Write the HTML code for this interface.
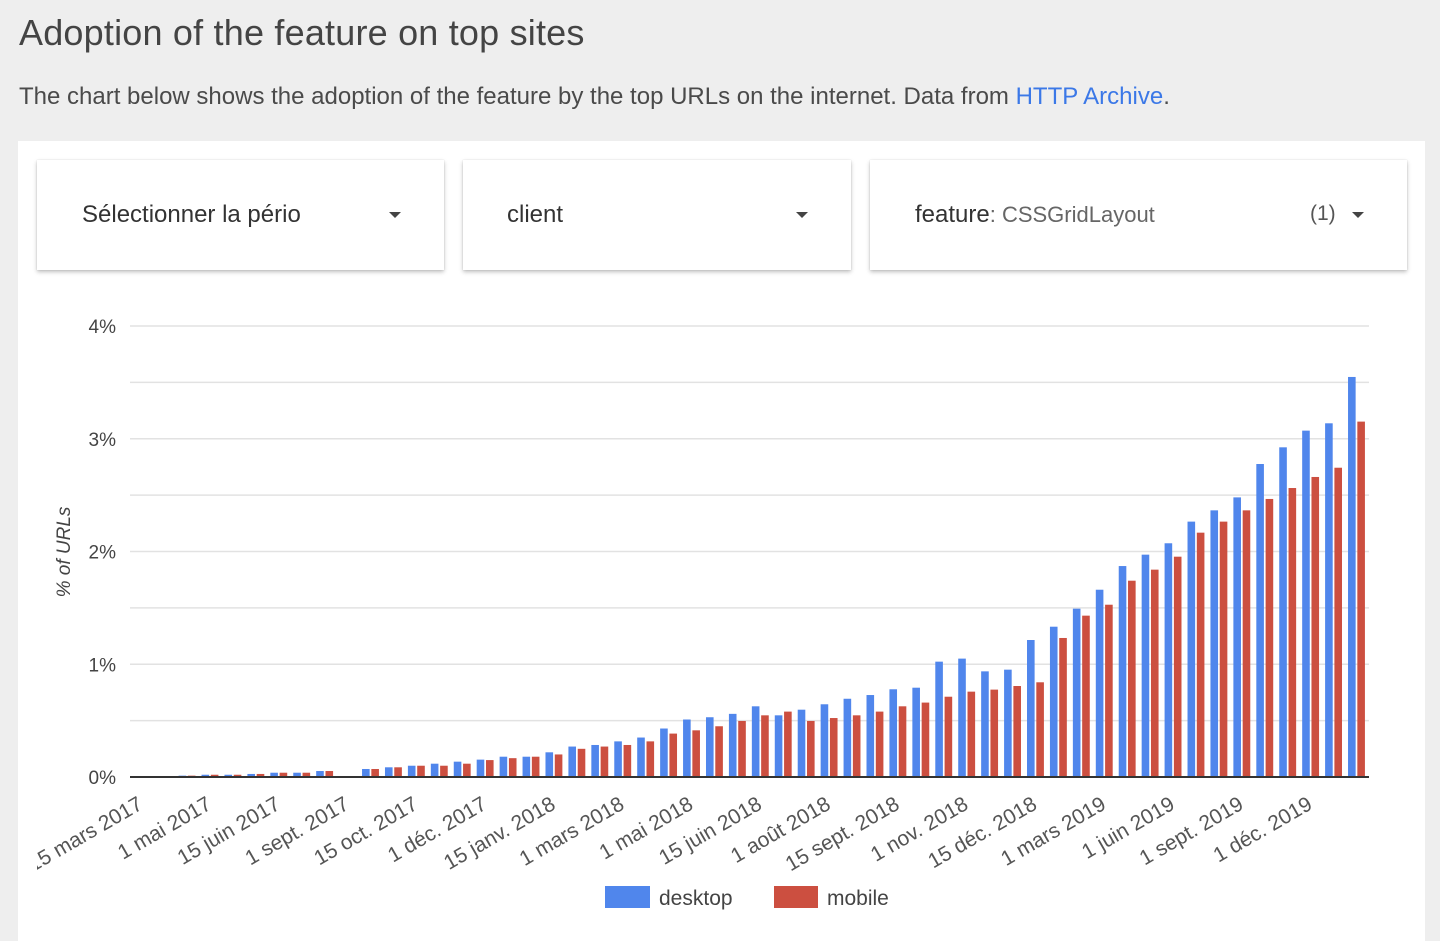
<!DOCTYPE html>
<html><head><meta charset="utf-8">
<style>
html,body{margin:0;padding:0;width:1440px;height:929px;background:#eeeeee;overflow:hidden;font-family:"Liberation Sans",sans-serif;color:#444}
.title{position:absolute;left:19px;top:12px;font-size:36px;font-weight:300;color:#444;letter-spacing:0.2px}
.sub{position:absolute;left:19px;top:83px;font-size:24px;color:#4a4a4a}
.sub a{color:#3b78e7;text-decoration:none}
.card{position:absolute;left:18px;top:141px;width:1407px;height:800px;background:#fff}
.dd{position:absolute;top:160px;height:110px;background:#fff;box-shadow:0 2px 4px rgba(0,0,0,0.25),0 0 1px rgba(0,0,0,0.15);font-size:24px;color:#333}
.dd span.t{position:absolute;top:41px}
.caret{position:absolute;top:52px;width:0;height:0;border-left:6px solid transparent;border-right:6px solid transparent;border-top:6px solid #444}
svg{position:absolute;left:0;top:0}
</style></head><body>
<div class="title">Adoption of the feature on top sites</div>
<div class="sub">The chart below shows the adoption of the feature by the top URLs on the internet. Data from <a>HTTP Archive</a>.</div>
<div class="card"></div>
<div class="dd" style="left:37px;width:407px"><span class="t" style="left:45px">Sélectionner la pério</span><div class="caret" style="left:352px"></div></div>
<div class="dd" style="left:463px;width:388px"><span class="t" style="left:44px">client</span><div class="caret" style="left:333px"></div></div>
<div class="dd" style="left:870px;width:537px"><span class="t" style="left:45px">feature<span style="color:#666;font-size:22px">: CSSGridLayout</span></span><span class="t" style="left:440px;font-size:21px;color:#555;top:42px">(1)</span><div class="caret" style="left:482px"></div></div>
<svg id="chart" width="1440" height="929">
<defs><clipPath id="clip"><rect x="37" y="280" width="1400" height="649"/></clipPath></defs>
<g id="grid"></g><g id="bars"></g><g id="axis"></g><g id="xl" clip-path="url(#clip)"></g>
<text x="70" y="552" transform="rotate(-90 70 552)" text-anchor="middle" font-size="19" font-style="italic" fill="#444">% of URLs</text>
<rect x="605" y="886" width="45" height="22" fill="#5086ec"/>
<text x="659" y="905" font-size="21" fill="#444">desktop</text>
<rect x="774" y="886" width="44" height="22" fill="#cc4f40"/>
<text x="827" y="905" font-size="21" fill="#444">mobile</text>
</svg>
<script>
const desktop=[0.012,0.02,0.02,0.027,0.038,0.038,0.053,null,0.071,0.086,0.1,0.118,0.136,0.154,0.18,0.18,0.219,0.27,0.284,0.316,0.35,0.43,0.51,0.53,0.56,0.627,0.547,0.597,0.645,0.694,0.727,0.778,0.792,1.023,1.05,0.937,0.952,1.215,1.333,1.493,1.661,1.871,1.972,2.073,2.265,2.365,2.48,2.776,2.924,3.072,3.137,3.548];
const mobile=[0.012,0.02,0.02,0.027,0.038,0.038,0.053,null,0.071,0.086,0.1,0.1,0.118,0.15,0.167,0.18,0.2,0.25,0.27,0.284,0.316,0.385,0.414,0.45,0.497,0.547,0.58,0.497,0.523,0.547,0.58,0.627,0.66,0.712,0.757,0.775,0.807,0.84,1.233,1.431,1.528,1.741,1.839,1.954,2.167,2.265,2.365,2.466,2.563,2.661,2.743,3.152];
const xLabels=["15 mars 2017","1 mai 2017","15 juin 2017","1 sept. 2017","15 oct. 2017","1 déc. 2017","15 janv. 2018","1 mars 2018","1 mai 2018","15 juin 2018","1 août 2018","15 sept. 2018","1 nov. 2018","15 déc. 2018","1 mars 2019","1 juin 2019","1 sept. 2019","1 déc. 2019"];
const yTicks=[0,1,2,3,4];
const NS="http://www.w3.org/2000/svg";
const y=v=>777-v*112.75;
const x=i=>187+i*22.93;
const mk=(p,t,a)=>{const e=document.createElementNS(NS,t);for(const k in a)e.setAttribute(k,a[k]);p.appendChild(e);return e;};
const grid=document.getElementById('grid');
for(let v=0.5;v<=4;v+=0.5){const l=mk(grid,'line',{x1:130,x2:1369,y1:y(v),y2:y(v),stroke:'#e2e2e2','stroke-width':1.5});

}
const axis=document.getElementById('axis');
yTicks.forEach(v=>{const t=mk(axis,'text',{x:116,y:y(v)+7,'text-anchor':'end','font-size':19,fill:'#444'});t.textContent=v+'%';

});
const bars=document.getElementById('bars');
desktop.forEach((v,i)=>{if(v==null)return;const r=mk(bars,'rect',{x:x(i)-8.4,y:y(v),width:7.6,height:v*112.75,fill:'#5086ec'});

});
mobile.forEach((v,i)=>{if(v==null)return;const r=mk(bars,'rect',{x:x(i)+0.9,y:y(v),width:7.6,height:v*112.75,fill:'#cc4f40'});

});
const base=mk(axis,'line',{x1:130,x2:1369,y1:777,y2:777,stroke:'#333','stroke-width':2});


const xl=document.getElementById('xl');
xLabels.forEach((s,k)=>{const i=-2+k*3;const ax=x(i)+3,ay=808;const t=mk(xl,'text',{x:ax,y:ay,'text-anchor':'end','font-size':21,fill:'#555',transform:`rotate(-30 ${ax} ${ay})`});t.textContent=s;

});
</script>
</body></html>
